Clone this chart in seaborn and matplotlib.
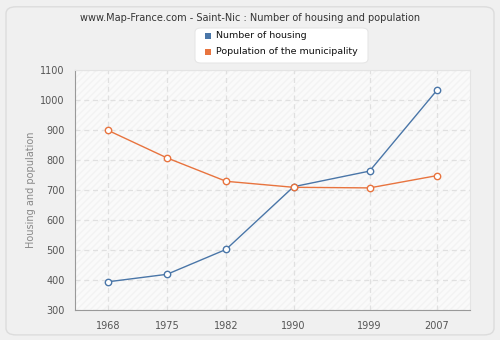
import matplotlib
matplotlib.use("Agg")
import matplotlib.pyplot as plt
from matplotlib.patches import FancyBboxPatch
import seaborn as sns
import pandas as pd

years = [1968, 1975, 1982, 1990, 1999, 2007]
housing = [394, 419, 502, 711, 763, 1033]
population = [899, 807, 729, 709, 707, 748]
y_ticks = [300, 400, 500, 600, 700, 800, 900, 1000, 1100]

sns.set_style("white")
plt.rcParams['font.family'] = ['DejaVu Sans']

df = pd.DataFrame({
    "year": years * 2,
    "value": housing + population,
    "series": ["Number of housing"] * len(years) + ["Population of the municipality"] * len(years),
})
palette = {"Number of housing": "#4a76a8", "Population of the municipality": "#e8743f"}

fig = plt.figure(figsize=(5.0, 3.4), dpi=100)
fig.patch.set_facecolor("#f0f0f0")
# outer rounded panel
panel = FancyBboxPatch((0.012, 0.015), 0.976, 0.965, boxstyle="round,pad=0,rounding_size=0.02",
                       transform=fig.transFigure, facecolor="#f0f0f0", edgecolor="#dcdcdc", lw=1,
                       zorder=-10)
fig.patches.append(panel)

ax = fig.add_axes([75 / 500, 30 / 340, 395 / 500, 240 / 340])
ax.set_facecolor("#fafafa")
ax.add_patch(plt.Rectangle((0, 0), 1, 1, transform=ax.transAxes, facecolor="none",
                           edgecolor="#f3f3f3", hatch="/////", lw=0, zorder=0))

sns.lineplot(data=df, x="year", y="value", hue="series", palette=palette, ax=ax,
             marker="o", markersize=4.6, markerfacecolor="white", markeredgewidth=1.0,
             linewidth=1.0, legend=False, zorder=3)
for line, col in zip(ax.lines, palette.values()):
    line.set_markeredgecolor(col)

ax.set_xlim(1964.1, 2010.9)
ax.set_ylim(300, 1100)
ax.set_xticks(years)
ax.set_yticks(y_ticks)
ax.grid(True, color="#e0e0e0", linestyle=(0, (4, 3)), linewidth=0.9)
ax.set_axisbelow(True)
for s in ["top", "right"]:
    ax.spines[s].set_color("#e4e4e4")
    ax.spines[s].set_linewidth(0.8)
for s in ["left", "bottom"]:
    ax.spines[s].set_color("#999999")
ax.tick_params(axis="both", colors="#999999", labelcolor="#555555", labelsize=7,
               length=4, width=1, direction="out")
ax.tick_params(axis="x", pad=4)
ax.set_xlabel("")
ax.set_ylabel("Housing and population", color="#888888", fontsize=7, labelpad=3)

fig.text(0.5, 0.947, "www.Map-France.com - Saint-Nic : Number of housing and population",
         ha="center", va="center", fontsize=7, color="#333333")

# legend box
leg = FancyBboxPatch((195 / 500, 1 - 63 / 340), 173 / 500, 35 / 340,
                     boxstyle="round,pad=0,rounding_size=0.012", transform=fig.transFigure,
                     facecolor="white", edgecolor="#e6e6e6", lw=0.8, zorder=5)
fig.patches.append(leg)
for i, (name, col) in enumerate(palette.items()):
    yy = 1 - (36 + 16 * i) / 340
    fig.patches.append(plt.Rectangle((205 / 500, yy - 3 / 340), 6 / 500, 6 / 340,
                                     transform=fig.transFigure, facecolor=col, edgecolor="none",
                                     zorder=6))
    fig.text(216 / 500, yy, name, ha="left", va="center", fontsize=6.8, color="#111111", zorder=7)

fig.savefig("out.png", dpi=100, facecolor=fig.get_facecolor())
